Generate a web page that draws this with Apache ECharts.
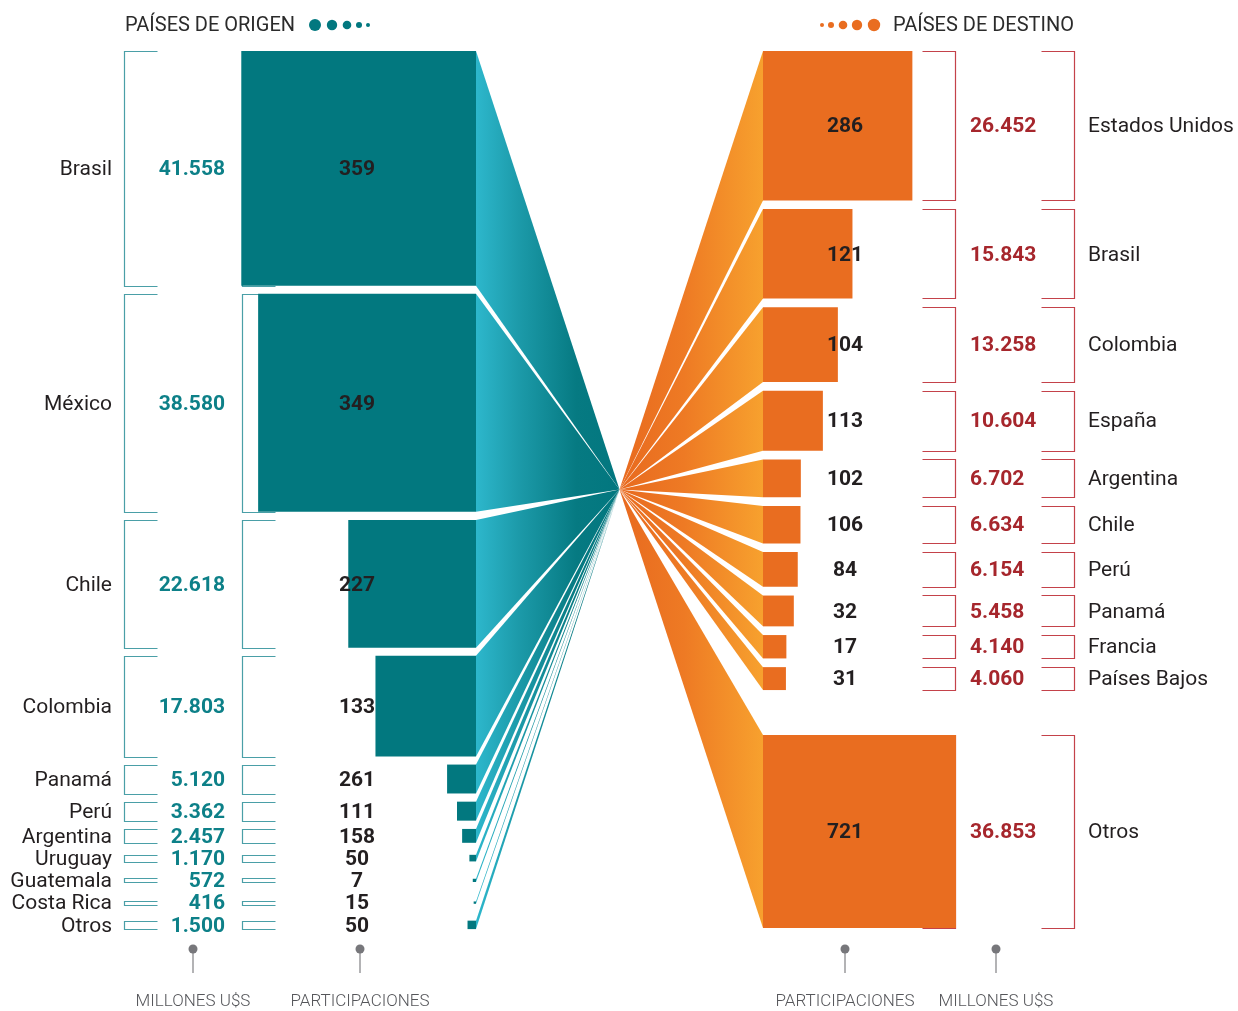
<!DOCTYPE html>
<html>
<head>
    <meta charset="utf-8">
    <title>Países de origen y destino</title>
    <script src="https://cdn.jsdelivr.net/npm/echarts@6/dist/echarts.min.js"></script>
    <style>html, body { margin: 0; background: #fff; }</style>
</head>
<body>
<div id="main" style="width: 1238px; height: 1011px;"></div>
<script type="text/javascript">
    // datos
    var originNames = ['Brasil', 'México', 'Chile', 'Colombia', 'Panamá', 'Perú', 'Argentina', 'Uruguay', 'Guatemala', 'Costa Rica', 'Otros'];
    var originMillions = [41558, 38580, 22618, 17803, 5120, 3362, 2457, 1170, 572, 416, 1500];
    var originDeals = [359, 349, 227, 133, 261, 111, 158, 50, 7, 15, 50];

    var destNames = ['Estados Unidos', 'Brasil', 'Colombia', 'España', 'Argentina', 'Chile', 'Perú', 'Panamá', 'Francia', 'Países Bajos', 'Otros'];
    var destMillions = [26452, 15843, 13258, 10604, 6702, 6634, 6154, 5458, 4140, 4060, 36853];
    var destDeals = [286, 121, 104, 113, 102, 106, 84, 32, 17, 31, 721];

    var headers = ['PAÍSES DE ORIGEN', 'PAÍSES DE DESTINO'];
    var footLabels = ['MILLONES U$S', 'PARTICIPACIONES', 'PARTICIPACIONES', 'MILLONES U$S'];

    var myChart = echarts.init(document.getElementById('main'));

    var FONT = 'Roboto, "Noto Sans", sans-serif';
    var Y_MAX = 155300;           // rango del eje vertical (millones)
    var GRID_TOP = 51, GRID_H = 877, W = 1238;
    var X_MAX = Y_MAX * W / GRID_H; // misma escala en x e y -> cuadrados
    var LEFT_EDGE = 476, RIGHT_EDGE = 763;
    var FOCAL_X = (LEFT_EDGE + RIGHT_EDGE) / 2;

    function fmt(v) {
        return String(v).replace(/\B(?=(\d{3})+(?!\d))/g, '.');
    }

    // apila las filas en unidades del eje: [valor, inicio, alto de fila, lado dibujado]
    function stack(values, gap, minSlot, maxSide, pinLast) {
        var y = 0;
        return values.map(function (v, i) {
            var side = Math.min(v, maxSide);
            var s = Math.max(side, minSlot);
            var top = (pinLast && i === values.length - 1) ? Y_MAX - s : y;
            y += s + gap;
            return [v, top, s, side];
        });
    }

    var leftFan = {
        type: 'linear', x: LEFT_EDGE, y: 0, x2: FOCAL_X, y2: 0, global: true,
        colorStops: [
            { offset: 0, color: '#2db7cc' },
            { offset: 0.3, color: '#1c9aa9' },
            { offset: 0.7, color: '#067a82' },
            { offset: 1, color: '#02777f' }
        ]
    };
    var rightFan = {
        type: 'linear', x: FOCAL_X, y: 0, x2: RIGHT_EDGE, y2: 0, global: true,
        colorStops: [
            { offset: 0, color: '#e86a1f' },
            { offset: 0.45, color: '#ee7a24' },
            { offset: 1, color: '#f7a12e' }
        ]
    };

    var sides = {
        left: {
            names: originNames, deals: originDeals, edge: LEFT_EDGE, dir: -1,
            color: '#02787f', fan: leftFan, bracketColor: '#4a9fa7', moneyColor: '#0d8088',
            brackets: [{ x: 124.5, dir: 1 }, { x: 242.5, dir: 1 }],
            nameX: 112, nameAlign: 'right', moneyX: 225, moneyAlign: 'right', dealX: 357
        },
        right: {
            names: destNames, deals: destDeals, edge: RIGHT_EDGE, dir: 1,
            color: '#e96d20', fan: rightFan, bracketColor: '#c4424a', moneyColor: '#a6262c',
            brackets: [{ x: 955.5, dir: -1 }, { x: 1074.5, dir: -1 }],
            nameX: 1088, nameAlign: 'left', moneyX: 970, moneyAlign: 'left', dealX: 845
        }
    };

    function makeRenderer(side) {
        return function (params, api) {
            var i = params.dataIndex;
            var v = api.value(0);
            var mid = api.value(1) + api.value(2) / 2;
            var d = api.value(3);
            var sz = api.size([d, d]);
            var w = sz[0], h = sz[1];
            var yMid = api.coord([0, mid])[1];
            var y0 = yMid - h / 2;
            var focalY = api.coord([0, Y_MAX / 2])[1];
            var sqX = side.dir < 0 ? side.edge - w : side.edge;
            var ty = yMid + 1.5;
            var children = [];

            // abanico
            children.push({
                type: 'polygon',
                shape: { points: [[FOCAL_X, focalY], [side.edge, y0], [side.edge, y0 + h]] },
                style: { fill: side.fan }
            });

            // corchetes
            var bh = Math.round(Math.max(h, 4)), by = Math.round(yMid - bh / 2) + 0.5;
            side.brackets.forEach(function (b) {
                children.push({
                    type: 'polyline',
                    shape: { points: [[b.x + b.dir * 33, by], [b.x, by], [b.x, by + bh], [b.x + b.dir * 33, by + bh]] },
                    style: { stroke: side.bracketColor, lineWidth: 1.2, fill: null }
                });
            });

            // cuadrado
            children.push({
                type: 'rect',
                shape: { x: sqX, y: y0, width: w, height: h },
                style: { fill: side.color }
            });

            // textos
            children.push({
                type: 'text',
                style: {
                    text: side.names[i], x: side.nameX, y: ty, align: side.nameAlign, verticalAlign: 'middle',
                    fill: '#231f20', fontSize: 21, fontFamily: FONT
                }
            });
            children.push({
                type: 'text',
                style: {
                    text: fmt(v), x: side.moneyX, y: ty, align: side.moneyAlign, verticalAlign: 'middle',
                    fill: side.moneyColor, fontSize: 21, fontWeight: 'bold', fontFamily: FONT
                }
            });
            children.push({
                type: 'text',
                style: {
                    text: String(side.deals[i]), x: side.dealX, y: ty, align: 'center', verticalAlign: 'middle',
                    fill: '#231f20', fontSize: 21, fontWeight: 'bold', fontFamily: FONT
                }
            });

            return { type: 'group', children: children };
        };
    }

    // graficos auxiliares: titulos, puntos, pies
    var graphics = [];
    graphics.push({
        type: 'text', x: 125, y: 26,
        style: { text: headers[0], align: 'left', verticalAlign: 'middle', fill: '#2b2b2b', fontSize: 20, fontFamily: FONT }
    });
    graphics.push({
        type: 'text', x: 1074, y: 26,
        style: { text: headers[1], align: 'right', verticalAlign: 'middle', fill: '#2b2b2b', fontSize: 20, fontFamily: FONT }
    });
    [[315, 6], [332, 5.2], [347, 4.3], [359, 3], [368, 2]].forEach(function (d) {
        graphics.push({ type: 'circle', shape: { cx: d[0], cy: 25, r: d[1] }, style: { fill: '#02787f' } });
    });
    [[822, 2], [831, 3], [843, 4.3], [857, 5.2], [874, 6.2]].forEach(function (d) {
        graphics.push({ type: 'circle', shape: { cx: d[0], cy: 25, r: d[1] }, style: { fill: '#e96d20' } });
    });
    [193, 360, 845, 996].forEach(function (x, i) {
        graphics.push({ type: 'line', shape: { x1: x, y1: 950, x2: x, y2: 973 }, style: { stroke: '#9a9a9c', lineWidth: 1.5 } });
        graphics.push({ type: 'circle', shape: { cx: x, cy: 949, r: 4.5 }, style: { fill: '#77777b' } });
        graphics.push({
            type: 'text', x: x, y: 1002,
            style: { text: footLabels[i], align: 'center', verticalAlign: 'middle', fill: '#55565a', fontSize: 17, fontWeight: 300, fontFamily: FONT }
        });
    });

    var option = {
        animation: false,
        backgroundColor: '#fff',
        grid: { left: 0, top: GRID_TOP, width: W, height: GRID_H },
        xAxis: { type: 'value', min: 0, max: X_MAX, show: false },
        yAxis: { type: 'value', min: 0, max: Y_MAX, inverse: true, show: false },
        graphic: graphics,
        series: [
            {
                name: 'origen',
                type: 'custom',
                renderItem: makeRenderer(sides.left),
                data: stack(originMillions, 1450, 2490, Infinity, false)
            },
            {
                name: 'destino',
                type: 'custom',
                renderItem: makeRenderer(sides.right),
                // el cuadrado de "Otros" se dibuja con el ancho de su columna
                data: stack(destMillions, 1540, 0, 34180, true)
            }
        ]
    };

    myChart.setOption(option);
    window.onresize = myChart.resize;
</script>
</body>
</html>
